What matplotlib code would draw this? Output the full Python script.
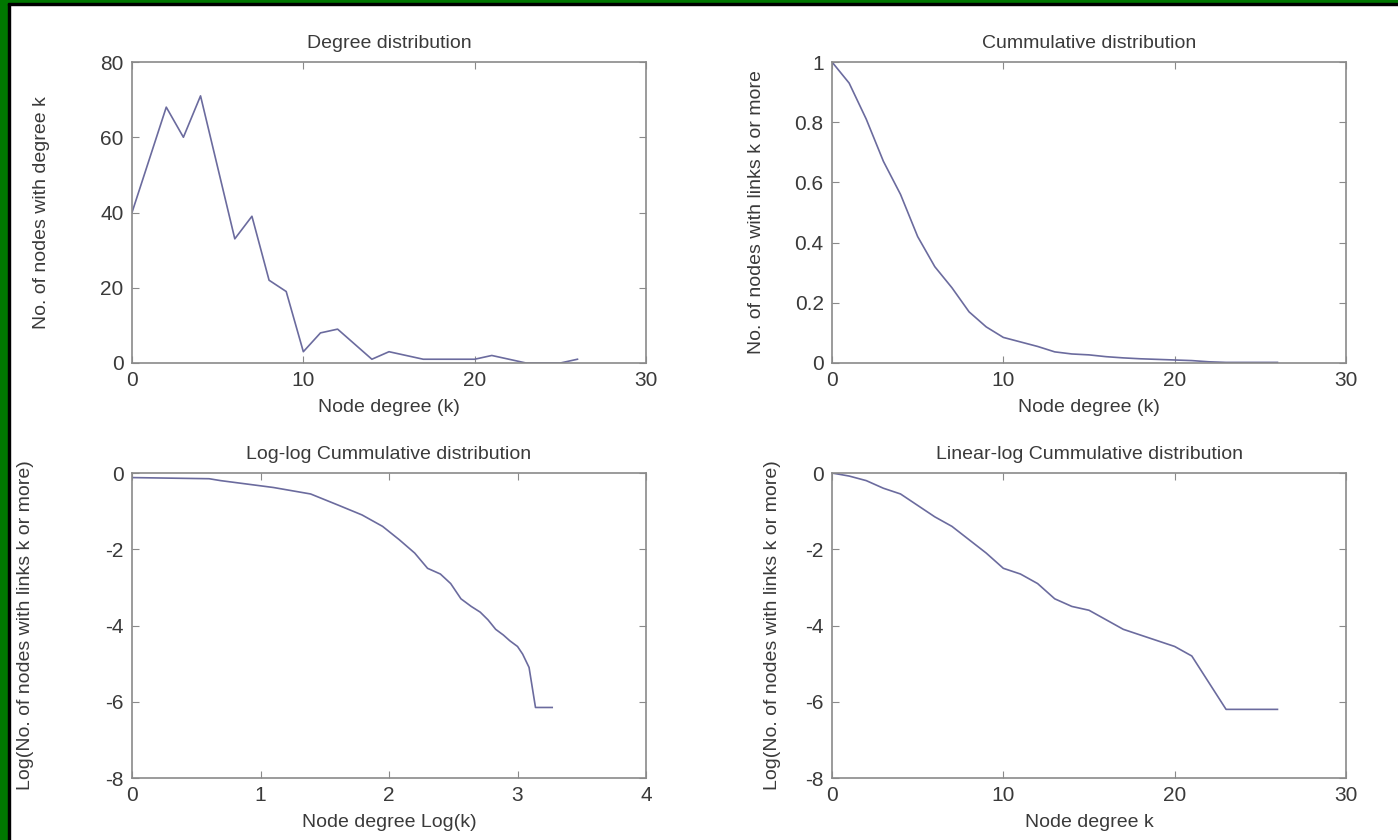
import matplotlib.pyplot as plt
from matplotlib.patches import Rectangle

# Data
k = list(range(27))
degree_counts = [40, 54, 68, 60, 71, 52, 33, 39, 22, 19, 3, 8, 9, 5, 1, 3, 2,
                 1, 1, 1, 1, 2, 1, 0, 0, 0, 1]
cum_frac = [1.0, 0.93, 0.81, 0.67, 0.56, 0.42, 0.32, 0.25, 0.17, 0.12, 0.085,
            0.07, 0.055, 0.037, 0.03, 0.027, 0.021, 0.017, 0.014, 0.012, 0.01,
            0.008, 0.004, 0.002, 0.002, 0.002, 0.002]
loglog_x = [0.0, 0.6, 0.69, 1.1, 1.39, 1.61, 1.79, 1.95, 2.08, 2.2, 2.3, 2.4,
            2.48, 2.56, 2.64, 2.71, 2.77, 2.83, 2.89, 2.94, 3.0, 3.04, 3.09,
            3.14, 3.22, 3.27]
loglog_y = [-0.12, -0.15, -0.2, -0.38, -0.55, -0.85, -1.1, -1.4, -1.75, -2.1,
            -2.5, -2.65, -2.9, -3.3, -3.5, -3.65, -3.85, -4.1, -4.25, -4.4,
            -4.55, -4.75, -5.1, -6.15, -6.15, -6.15]
linlog_y = [0.0, -0.08, -0.2, -0.4, -0.55, -0.85, -1.15, -1.4, -1.75, -2.1,
            -2.5, -2.65, -2.9, -3.3, -3.5, -3.6, -3.85, -4.1, -4.25, -4.4,
            -4.55, -4.8, -5.5, -6.2, -6.2, -6.2, -6.2]

plt.rcParams['font.family'] = ['Liberation Sans', 'DejaVu Sans']
plt.rcParams['axes.unicode_minus'] = False
line_col = '#6b6b9e'
text_col = '#3a3a3a'
frame_col = '#8a8a8a'
fs = 14

fig = plt.figure(figsize=(13.98, 8.4), dpi=100)
fig.patch.set_facecolor('white')

# green / black frame on the top and left edges
W, H = 1398, 840
fig.patches.append(Rectangle((0, 0), 8 / W, 1, transform=fig.transFigure, color='#007700', zorder=0))
fig.patches.append(Rectangle((8 / W, 0), 2 / W, 1 - 3 / H, transform=fig.transFigure, color='black', zorder=0))
fig.patches.append(Rectangle((0, 1 - 3 / H), 1, 3 / H, transform=fig.transFigure, color='#007700', zorder=0))
fig.patches.append(Rectangle((8 / W, 1 - 5 / H), 1, 2 / H, transform=fig.transFigure, color='black', zorder=0))

left1, left2, wid = 132 / W, 832 / W, 514 / W
ax1 = fig.add_axes([left1, 1 - 363 / H, wid, 301 / H])
ax2 = fig.add_axes([left2, 1 - 363 / H, wid, 301 / H])
ax3 = fig.add_axes([left1, 1 - 778 / H, wid, 305 / H])
ax4 = fig.add_axes([left2, 1 - 778 / H, wid, 305 / H])


def style(ax):
    for s in ax.spines.values():
        s.set_color(frame_col)
        s.set_linewidth(1.2)
    ax.tick_params(direction='in', top=True, right=True, length=5,
                   color=frame_col, labelcolor=text_col, labelsize=15, pad=6)


def labels(ax, title, xl, yl, ylx):
    ax.set_title(title, fontsize=fs, color=text_col, pad=10)
    ax.set_xlabel(xl, fontsize=fs, color=text_col, labelpad=6)
    ax.set_ylabel(yl, fontsize=fs, color=text_col)
    ax.yaxis.set_label_coords(ylx, 0.5)


# ---------------------------
# Degree distribution
# ---------------------------
ax1.plot(k, degree_counts, color=line_col, lw=1.2)
ax1.set_xlim(0, 30)
ax1.set_ylim(0, 80)
ax1.set_xticks([0, 10, 20, 30])
ax1.set_yticks([0, 20, 40, 60, 80])
labels(ax1, "Degree distribution", "Node degree (k)", "No. of nodes with degree k", -0.16)
style(ax1)

# ---------------------------
# Cumulative distribution
# ---------------------------
ax2.plot(k, cum_frac, color=line_col, lw=1.2)
ax2.set_xlim(0, 30)
ax2.set_ylim(0, 1)
ax2.set_xticks([0, 10, 20, 30])
ax2.set_yticks([0, 0.2, 0.4, 0.6, 0.8, 1])
ax2.set_yticklabels(['0', '0.2', '0.4', '0.6', '0.8', '1'])
labels(ax2, "Cummulative distribution", "Node degree (k)",
       "No. of nodes with links k or more", -0.13)
style(ax2)

# ---------------------------
# Log-log cumulative
# ---------------------------
ax3.plot(loglog_x, loglog_y, color=line_col, lw=1.2)
ax3.set_xlim(0, 4)
ax3.set_ylim(-8, 0)
ax3.set_xticks([0, 1, 2, 3, 4])
ax3.set_yticks([-8, -6, -4, -2, 0])
labels(ax3, "Log-log Cummulative distribution", "Node degree Log(k)",
       "Log(No. of nodes with links k or more)", -0.19)
style(ax3)

# ---------------------------
# Linear-log cumulative
# ---------------------------
ax4.plot(k, linlog_y, color=line_col, lw=1.2)
ax4.set_xlim(0, 30)
ax4.set_ylim(-8, 0)
ax4.set_xticks([0, 10, 20, 30])
ax4.set_yticks([-8, -6, -4, -2, 0])
labels(ax4, "Linear-log Cummulative distribution", "Node degree k",
       "Log(No. of nodes with links k or more)", -0.1)
style(ax4)

plt.savefig("out.png", dpi=100)
